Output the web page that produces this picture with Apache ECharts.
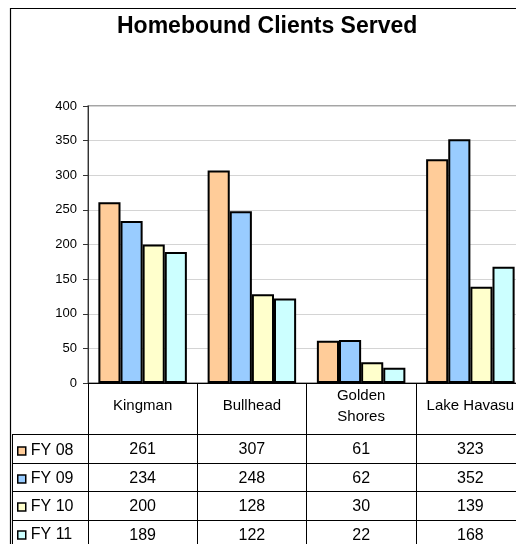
<!DOCTYPE html>
<html>
<head>
<meta charset="utf-8">
<script src="https://cdn.jsdelivr.net/npm/echarts@6/dist/echarts.min.js"></script>
<style>
  html, body { margin: 0; padding: 0; background: #fff; }
  #chart { width: 516px; height: 544px; }
</style>
</head>
<body>
<div id="chart"></div>
<script>
// 数据
var categories = ['Kingman', 'Bullhead', 'Golden\nShores', 'Lake Havasu'];
var seriesNames = ['FY 08', 'FY 09', 'FY 10', 'FY 11'];
var fy08 = [261, 307, 61, 323];
var fy09 = [234, 248, 62, 352];
var fy10 = [200, 128, 30, 139];
var fy11 = [189, 122, 22, 168];
var colors = ['#FFCC99', '#99CCFF', '#FFFFCC', '#CCFFFF'];

var values = [fy08, fy09, fy10, fy11];
var font = 'Liberation Sans, Arial, sans-serif';
// 数据表每行顶线离x轴的距离
var rowOffsets = [51, 80, 108, 137];
var axisY = 383;

var myChart = echarts.init(document.getElementById('chart'));

// 数据表的行：每行一个x轴，标签就是数值
var tableAxes = rowOffsets.map(function (off, r) {
  return {
    type: 'category',
    gridIndex: 0,
    position: 'bottom',
    offset: off,
    data: categories,
    axisLine: { show: true, lineStyle: { color: '#000', width: 1 } },
    axisTick: { show: false },
    axisLabel: {
      interval: 0,
      margin: 16,
      verticalAlign: 'middle',
      color: '#000',
      fontFamily: font,
      fontSize: 16,
      formatter: function (v, i) { return String(values[r][i]); }
    }
  };
});

// 左边一列的横线
var leftLines = rowOffsets.map(function (off) {
  return {
    type: 'line',
    shape: { x1: 12, y1: axisY + off + 0.5, x2: 88, y2: axisY + off + 0.5 },
    style: { stroke: '#000', lineWidth: 1 },
    silent: true
  };
});

myChart.setOption({
  animation: false,
  title: {
    text: 'Homebound Clients Served',
    left: 117,
    top: 15,
    padding: 0,
    textStyle: { fontFamily: font, fontSize: 23, fontWeight: 'bold', color: '#000' }
  },
  legend: {
    orient: 'vertical',
    left: 17,
    top: 443,
    padding: 0,
    itemWidth: 8,
    itemHeight: 8,
    itemGap: 12,
    icon: 'rect',
    selectedMode: false,
    itemStyle: { borderColor: '#000', borderWidth: 1.5 },
    textStyle: { fontFamily: font, fontSize: 16, color: '#000', lineHeight: 16 },
    data: seriesNames
  },
  grid: {
    left: 88,
    top: 106,
    right: -9,
    bottom: 544 - axisY,
    show: true,
    borderColor: '#888',
    borderWidth: 1.5,
    outerBoundsMode: 'none'
  },
  graphic: [
    {
      type: 'rect',
      shape: { x: 10.5, y: 8.5, width: 540, height: 560 },
      style: { fill: 'none', stroke: '#000', lineWidth: 1.2 },
      silent: true
    },
    {
      type: 'line',
      shape: { x1: 12.5, y1: axisY + rowOffsets[0], x2: 12.5, y2: 560 },
      style: { stroke: '#000', lineWidth: 1 },
      silent: true
    }
  ].concat(leftLines),
  xAxis: [
    {
      type: 'category',
      gridIndex: 0,
      position: 'bottom',
      data: categories,
      axisLine: { show: true, lineStyle: { color: '#000', width: 1 } },
      axisTick: { show: true, length: 170, interval: 0, lineStyle: { color: '#000' } },
      axisLabel: {
        interval: 0,
        margin: 23,
        verticalAlign: 'middle',
        lineHeight: 21,
        color: '#000',
        fontFamily: font,
        fontSize: 15
      }
    }
  ].concat(tableAxes),
  yAxis: {
    type: 'value',
    min: 0,
    max: 400,
    interval: 50,
    axisLine: { show: true, lineStyle: { color: '#333' } },
    axisTick: { show: true, length: 5, lineStyle: { color: '#333' } },
    axisLabel: { margin: 11, color: '#000', fontFamily: font, fontSize: 13 },
    splitLine: { lineStyle: { color: '#d4d4d4', width: 1 } }
  },
  series: seriesNames.map(function (name, i) {
    return {
      name: name,
      type: 'bar',
      xAxisIndex: 0,
      data: values[i],
      barGap: 0,
      barCategoryGap: '19%',
      itemStyle: { color: colors[i], borderColor: '#000', borderWidth: 2 }
    };
  })
});
</script>
</body>
</html>
